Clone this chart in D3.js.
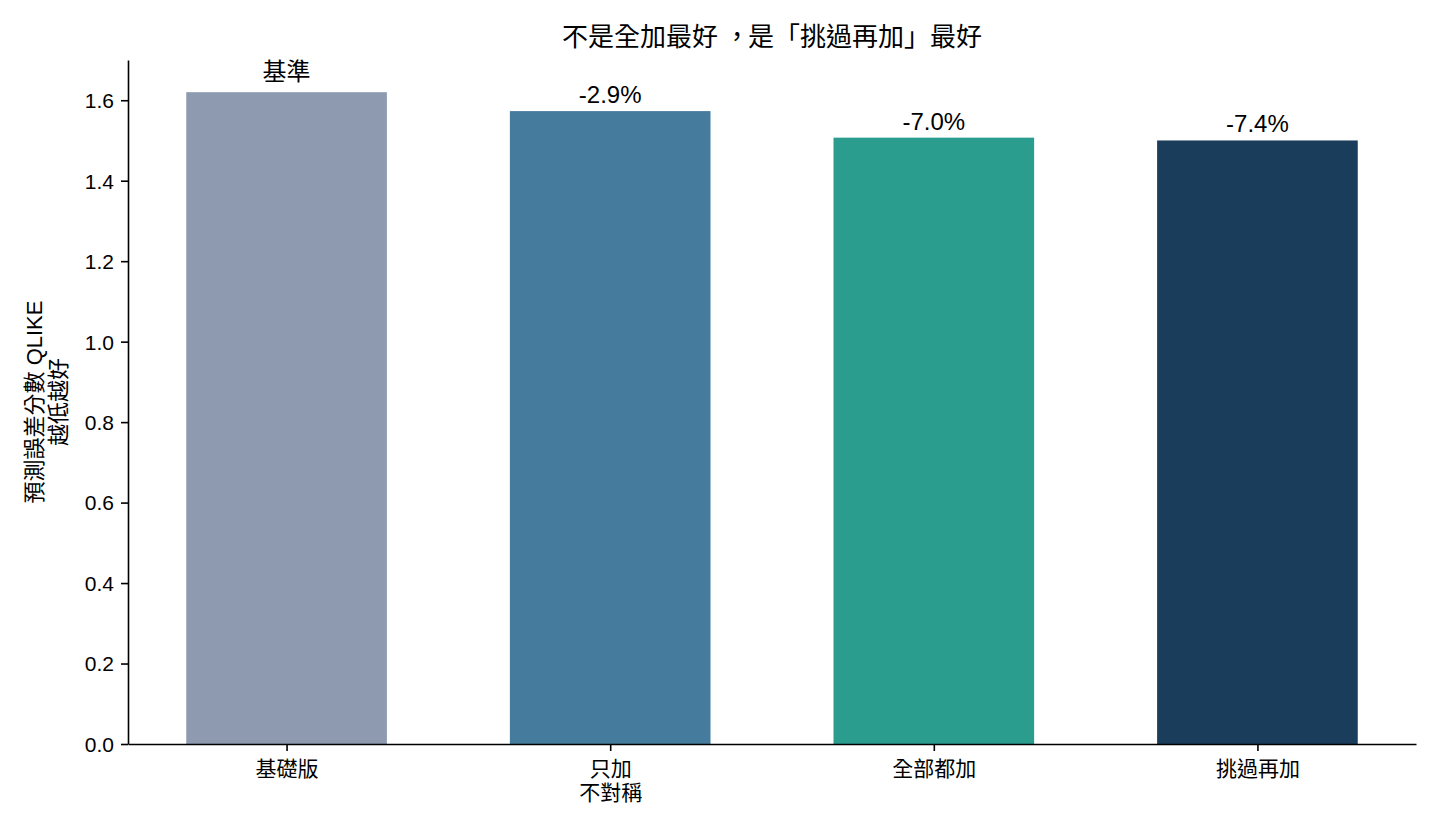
<!DOCTYPE html>
<html lang="zh-Hant">
<head>
<meta charset="utf-8">
<script src="https://cdn.jsdelivr.net/npm/d3@7"></script>
<style>
  body { margin: 0; background: #fff; }
  svg text { font-family: "Liberation Sans", Arial, "Noto Sans CJK TC", sans-serif; fill: #000; }
  .axis path, .axis line { stroke: #000; stroke-width: 1.6px; }
  .axis text { font-size: 21px; }
</style>
</head>
<body>
<div class="chart"></div>
<script>
// data
const categories = ["基礎版", "只加\n不對稱", "全部都加", "挑過再加"];
const qlike = [1.620, 1.573, 1.507, 1.500];
const barLabels = ["基準", "-2.9%", "-7.0%", "-7.4%"];
const barColors = ["#8d9ab0", "#457b9d", "#2a9d8f", "#1a3d5c"];
const yTicks = [0, 0.2, 0.4, 0.6, 0.8, 1.0, 1.2, 1.4, 1.6];
const titleParts = ["不是全加最好", "，", "是", "「", "挑過再加", "」", "最好"];

const width = 1440, height = 832;
const margin = { top: 60, right: 24, bottom: 88, left: 128 };

const svg = d3.select(".chart")
  .append("svg")
  .attr("width", width)
  .attr("height", height);

// x positions as in matplotlib: integer slots with a small margin
const xScale = d3.scaleLinear()
  .domain([-0.49, 3.49])
  .range([margin.left, width - margin.right]);
const barWidth = 0.62;

const yScale = d3.scaleLinear()
  .domain([0, 1.7])
  .range([height - margin.bottom, margin.top]);

//Bars
svg.selectAll("rect.bar")
  .data(qlike)
  .join("rect")
  .attr("class", "bar")
  .attr("x", (d, i) => xScale(i - barWidth / 2))
  .attr("width", xScale(barWidth) - xScale(0))
  .attr("y", d => yScale(d))
  .attr("height", d => yScale(0) - yScale(d))
  .attr("fill", (d, i) => barColors[i]);

//Bar labels
svg.selectAll("text.barlabel")
  .data(qlike)
  .join("text")
  .attr("class", "barlabel")
  .attr("x", (d, i) => xScale(i))
  .attr("y", (d, i) => yScale(d) - (i === 0 ? 12 : 8))
  .attr("text-anchor", "middle")
  .style("font-size", "24px")
  .text((d, i) => barLabels[i]);

//Axes
const yAxis = d3.axisLeft(yScale)
  .tickValues(yTicks)
  .tickFormat(d3.format(".1f"))
  .tickSize(7)
  .tickPadding(7)
  .tickSizeOuter(0);

svg.append("g")
  .attr("class", "axis")
  .attr("transform", `translate(${margin.left}, 0)`)
  .call(yAxis)
  .call(g => g.selectAll(".tick text").attr("dy", "0.35em"));

const xAxis = d3.axisBottom(xScale)
  .tickValues(d3.range(categories.length))
  .tickFormat("")
  .tickSize(7)
  .tickSizeOuter(0);

const xAxisGroup = svg.append("g")
  .attr("class", "axis")
  .attr("transform", `translate(0, ${height - margin.bottom})`)
  .call(xAxis);

xAxisGroup.selectAll(".tick text").attr("dy", null).attr("y", 13);
xAxisGroup.selectAll(".tick").each(function (d) {
  const t = d3.select(this).select("text");
  categories[d].split("\n").forEach((line, k) => {
    t.append("tspan")
      .attr("x", 0)
      .attr("dy", k === 0 ? "0.9em" : "1.15em")
      .text(line);
  });
});

//Title: a little extra room round the comma, as in the reference font
const title = svg.append("text")
  .attr("x", (margin.left + width - margin.right) / 2)
  .attr("y", 46)
  .attr("text-anchor", "middle")
  .style("font-size", "26px");
const titleGaps = [0, 6, -2, 0, 0, 0, 0];
title.selectAll("tspan")
  .data(titleParts)
  .join("tspan")
  .attr("dx", (d, i) => titleGaps[i])
  .text(d => d);

//Y label, two lines
const yLabel = svg.append("text")
  .attr("transform", `translate(42, ${(margin.top + height - margin.bottom) / 2}) rotate(-90)`)
  .attr("text-anchor", "middle")
  .style("font-size", "22px");
yLabel.append("tspan").attr("x", 0).attr("dy", 0).text("預測誤差分數 QLIKE");
yLabel.append("tspan").attr("x", 0).attr("dy", "1.1em").text("越低越好");
</script>
</body>
</html>
